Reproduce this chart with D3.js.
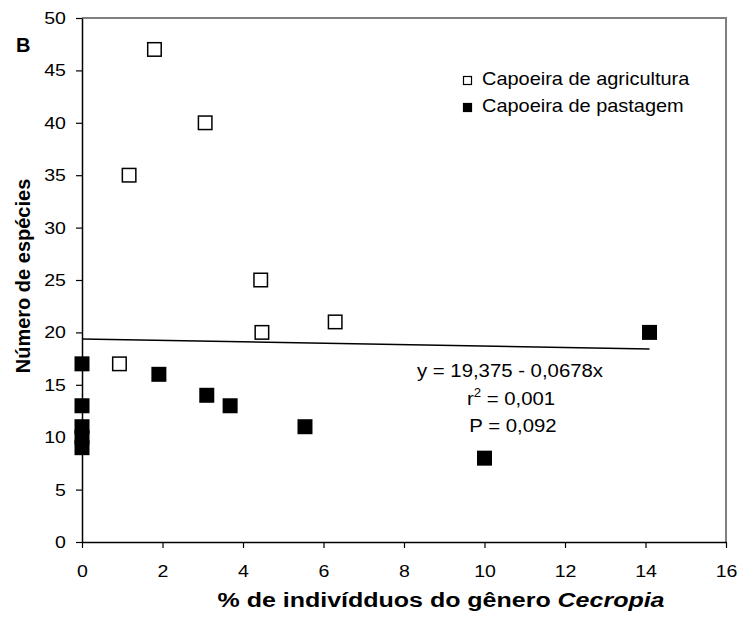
<!DOCTYPE html>
<html>
<head>
<meta charset="utf-8">
<script src="https://cdn.jsdelivr.net/npm/d3@7"></script>
<style>
  body { margin: 0; background: #fff; }
  svg text { font-family: "Liberation Sans", Arial, sans-serif; fill: #000; }
</style>
</head>
<body>
<svg id="chart" width="742" height="619"></svg>
<script>
// capoeira de agricultura (open squares)
const agriX = [1.80, 3.06, 1.17, 4.44, 4.47, 6.29, 0.93];
const agriY = [47, 40, 35, 25, 20, 21, 17];
// capoeira de pastagem (filled squares)
const pastX = [0, 0, 0, 0, 0, 1.91, 3.10, 3.68, 5.54, 10.0, 14.1];
const pastY = [17, 13, 11, 10, 9, 16, 14, 13, 11, 8, 20];

const xTicks = [0, 2, 4, 6, 8, 10, 12, 14, 16];
const yTicks = [0, 5, 10, 15, 20, 25, 30, 35, 40, 45, 50];

// regression y = 19,375 - 0,0678x
const regA = 19.375, regB = -0.0678;
const regRange = [0, 14.1];
const eqLines = ["y = 19,375 - 0,0678x", "r", "2", " = 0,001", "P = 0,092"];

const legendNames = ["Capoeira de agricultura", "Capoeira de pastagem"];

var svg = d3.select("#chart"),
    margin = {top: 18, right: 16, bottom: 77, left: 82},
    width = +svg.attr("width"),
    height = +svg.attr("height");

// the original figure is a bit wider than tall, text too
var stretch = 1.15;

var x = d3.scaleLinear()
    .domain([0, 16])
    .range([margin.left, width - margin.right]);

var y = d3.scaleLinear()
    .domain([0, 50])
    .range([height - margin.bottom, margin.top]);

// plot area frame (top and right in grey)
svg.append("path")
    .attr("d", `M${x(0)},${y(50)}H${x(16)}V${y(0)}`)
    .attr("fill", "none")
    .attr("stroke", "#808080")
    .attr("stroke-width", 2);

var xAxis = svg.append("g")
    .attr("transform", "translate(0," + y(0) + ")")
    .call(d3.axisBottom(x).tickValues(xTicks).tickSize(6).tickSizeOuter(0).tickPadding(17));

var yAxis = svg.append("g")
    .attr("transform", "translate(" + x(0) + ",0)")
    .call(d3.axisLeft(y).tickValues(yTicks).tickSize(6).tickSizeOuter(0).tickPadding(8));

[xAxis, yAxis].forEach(function(g) {
    g.select(".domain").attr("stroke", "#000").attr("stroke-width", 1.5);
    g.selectAll(".tick line").attr("stroke", "#000").attr("stroke-width", 1.2);
    g.selectAll(".tick text")
        .style("font-family", '"Liberation Sans", Arial, sans-serif')
        .style("font-size", "17px")
        .attr("fill", "#000")
        .attr("transform", "scale(" + stretch + ",1)");
});

// regression line
svg.append("line")
    .attr("x1", x(regRange[0]))
    .attr("y1", y(regA + regB * regRange[0]))
    .attr("x2", x(regRange[1]))
    .attr("y2", y(regA + regB * regRange[1]))
    .attr("stroke", "#000")
    .attr("stroke-width", 1.5);

var size = 15;

svg.append("g")
    .selectAll("rect")
    .data(pastX.map(function(d, i) { return {x: d, y: pastY[i]}; }))
    .enter()
    .append("rect")
    .attr("x", function(d) { return x(d.x) - size / 2; })
    .attr("y", function(d) { return y(d.y) - size / 2; })
    .attr("width", size)
    .attr("height", size)
    .attr("fill", "#000");

svg.append("g")
    .selectAll("rect")
    .data(agriX.map(function(d, i) { return {x: d, y: agriY[i]}; }))
    .enter()
    .append("rect")
    .attr("x", function(d) { return x(d.x) - (size - 1.5) / 2; })
    .attr("y", function(d) { return y(d.y) - (size - 1.5) / 2; })
    .attr("width", size - 1.5)
    .attr("height", size - 1.5)
    .attr("fill", "#fff")
    .attr("stroke", "#000")
    .attr("stroke-width", 1.5);

function wideText(px, py, sx, size) {
    return svg.append("text")
        .attr("transform", "translate(" + px + "," + py + ") scale(" + sx + ",1)")
        .attr("text-anchor", "middle")
        .style("font-size", size + "px");
}

// equation block
wideText(510, 377, 1.1, 18.5).text(eqLines[0]);
var r2 = wideText(511, 405, 1.1, 18.5);
r2.append("tspan").text(eqLines[1]);
r2.append("tspan").attr("dy", -8).style("font-size", "12px").text(eqLines[2]);
r2.append("tspan").attr("dy", 8).text(eqLines[3]);
wideText(513, 432, 1.1, 18.5).text(eqLines[4]);

// legend
var legend = svg.append("g").attr("transform", "translate(463,76)");
legendNames.forEach(function(name, i) {
    var row = legend.append("g").attr("transform", "translate(0," + (i * 27) + ")");
    row.append("rect")
        .attr("x", 0.5).attr("y", 0.5)
        .attr("width", 8).attr("height", 8)
        .attr("fill", i === 0 ? "#fff" : "#000")
        .attr("stroke", "#000")
        .attr("stroke-width", 1.2);
    row.append("text")
        .attr("transform", "translate(19,9) scale(1.05,1)")
        .style("font-size", "19px")
        .text(name);
});

// panel letter
svg.append("text")
    .attr("x", 16).attr("y", 52)
    .style("font-size", "20px")
    .style("font-weight", "bold")
    .text("B");

// axis titles
svg.append("text")
    .attr("transform", "translate(30," + ((y(0) + y(50)) / 2 - 4) + ") rotate(-90)")
    .attr("text-anchor", "middle")
    .style("font-size", "20px")
    .style("font-weight", "bold")
    .text("Número de espécies");

var xt = wideText(441, 607, 1.25, 20)
    .style("font-weight", "bold");
xt.append("tspan").text("% de indivídduos do gênero  ");
xt.append("tspan").style("font-style", "italic").text("Cecropia");
</script>
</body>
</html>
